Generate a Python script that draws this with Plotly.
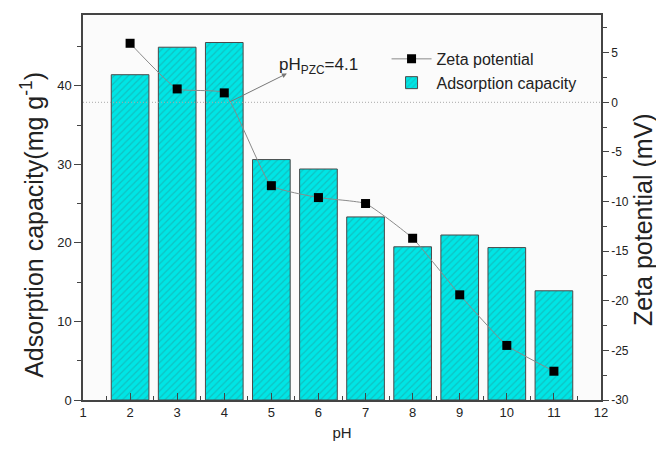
import plotly.graph_objects as go

# pH values and measurements
ph = [2, 3, 4, 5, 6, 7, 8, 9, 10, 11]
adsorption = [41.4, 44.9, 45.5, 30.6, 29.4, 23.3, 19.5, 21.0, 19.4, 13.9]
zeta = [5.95, 1.35, 0.95, -8.4, -9.6, -10.2, -13.7, -19.4, -24.5, -27.1]
ph_pzc = 4.1

x_ticks = list(range(1, 13))
y_ticks = [0, 10, 20, 30, 40]
y2_ticks = [-30, -25, -20, -15, -10, -5, 0, 5]
y2_ticktext = [str(v) for v in y2_ticks]  # plain hyphen for negatives

font_family = "Liberation Sans, Arial, sans-serif"

fig = go.Figure()

fig.add_trace(go.Bar(
    x=ph, y=adsorption, name="Adsorption capacity",
    width=0.8,
    marker=dict(
        color="#00E5E5",
        line=dict(color="#4a4a4a", width=1),
        pattern=dict(shape="/", bgcolor="#00E5E5", fgcolor="#1f9e9e",
                     size=5, solidity=0.25),
    ),
    legendrank=2,
))

fig.add_trace(go.Scatter(
    x=ph, y=zeta, name="Zeta potential", yaxis="y2",
    mode="lines+markers",
    line=dict(color="#8a8a8a", width=1, shape="spline", smoothing=0.4),
    marker=dict(symbol="square", size=9, color="black"),
    legendrank=1,
))

# dotted zero line of the zeta potential
fig.add_shape(type="line", xref="paper", yref="y2", x0=0, x1=1, y0=0, y1=0,
              line=dict(color="#aaaaaa", width=1, dash="1px,2px"))

# arrow from the point of zero charge to its label
fig.add_annotation(x=5.33, y=2.9, xref="x", yref="y2",
                   ax=ph_pzc, ay=0, axref="x", ayref="y2",
                   text="", showarrow=True, arrowhead=2, arrowsize=1,
                   arrowwidth=1, arrowcolor="#777777")
fig.add_annotation(x=5.12, y=3.7, xref="x", yref="y2",
                   text="pH<sub>PZC</sub>=4.1", showarrow=False,
                   xanchor="left", yanchor="middle",
                   font=dict(size=17, color="#222222", family=font_family))

# axis titles
fig.add_annotation(x=-0.0985, y=0.455, xref="paper", yref="paper",
                   text="Adsorption capacity(mg g<sup>-1</sup>)",
                   textangle=-90, showarrow=False,
                   xanchor="center", yanchor="middle",
                   font=dict(size=25, color="#222222", family=font_family))
fig.add_annotation(x=1.0815, y=0.468, xref="paper", yref="paper",
                   text="Zeta potential (mV)",
                   textangle=-90, showarrow=False,
                   xanchor="center", yanchor="middle",
                   font=dict(size=25, color="#222222", family=font_family))

axis_common = dict(showline=True, linecolor="#444444", linewidth=1.5,
                   tickcolor="#444444", showgrid=False, zeroline=False,
                   tickfont=dict(size=13, color="#222222", family=font_family))

fig.update_layout(
    width=656, height=451,
    margin=dict(l=83, r=55, t=15, b=51, autoexpand=False),
    paper_bgcolor="white",
    plot_bgcolor="#fbfbfb",
    font=dict(family=font_family, color="#222222"),
    bargap=0.2,
    xaxis=dict(
        range=[1, 12], tickmode="array", tickvals=x_ticks,
        ticks="inside", ticklen=7, mirror=True,
        minor=dict(ticks="inside", ticklen=4, dtick=0.5, tick0=1,
                   tickcolor="#444444"),
        title=dict(text="pH", font=dict(size=15), standoff=8),
        **axis_common,
    ),
    yaxis=dict(
        range=[0, 49], tickmode="array", tickvals=y_ticks,
        ticks="outside", ticklen=7,
        minor=dict(ticks="outside", ticklen=4, dtick=5, tick0=0,
                   tickcolor="#444444"),
        **axis_common,
    ),
    yaxis2=dict(
        range=[-30, 8.8], overlaying="y", side="right",
        tickmode="array", tickvals=y2_ticks, ticktext=y2_ticktext,
        ticks="outside", ticklen=6,
        minor=dict(ticks="outside", ticklen=4, dtick=2.5, tick0=0,
                   tickcolor="#444444"),
        **{**axis_common,
           "tickfont": dict(size=12, color="#222222", family=font_family)},
    ),
    legend=dict(
        x=0.586, y=0.93, xanchor="left", yanchor="top",
        bgcolor="rgba(0,0,0,0)", font=dict(size=16, color="#222222"),
        tracegroupgap=0, itemwidth=40,
    ),
)

fig.write_html("out.html")
